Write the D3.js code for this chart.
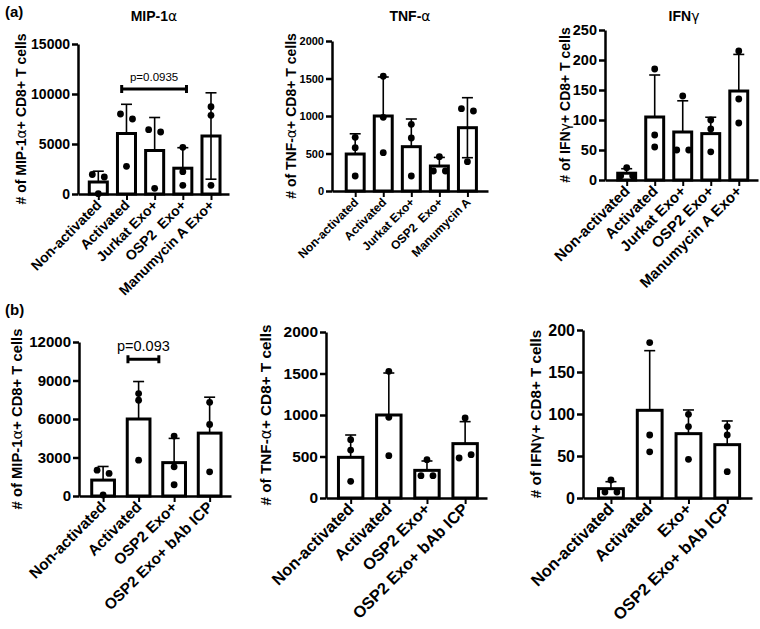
<!DOCTYPE html>
<html>
<head>
<meta charset="utf-8">
<script src="https://cdn.jsdelivr.net/npm/d3@7"></script>
<style>
body { margin: 0; background: #fff; }
text { font-family: "Liberation Sans", Arial, sans-serif; }
</style>
</head>
<body>
<div id="canvas"></div>
<script>
// ---- data ----
const groupsA_mip = ["Non-activated", "Activated", "Jurkat Exo+", "OSP2  Exo+", "Manumycin A Exo+"]
const groupsA_tnf = ["Non-activated", "Activated", "Jurkat Exo+", "OSP2  Exo+", "Manumycin A"]
const groupsA_ifn = ["Non-activated", "Activated", "Jurkat Exo+", "OSP2 Exo+", "Manumycin A Exo+"]
const groupsB = ["Non-activated", "Activated", "OSP2 Exo+", "OSP2 Exo+ bAb ICP"]
const groupsB_ifn = ["Non-activated", "Activated", "Exo+", "OSP2 Exo+ bAb ICP"]

// (a) MIP-1a
const mipA_mean = [1200, 6050, 4350, 2580, 5800]
const mipA_sd = [1080, 2920, 3300, 2050, 4320]
const mipA_pts = [[1950, 1700, 30], [8000, 7500, 2770], [6430, 6200, 570], [4670, 2230, 870], [8730, 7870, 870]]
// (a) TNF-a
const tnfA_mean = [493, 1000, 591, 333, 844]
const tnfA_sd = [270, 520, 369, 115, 400]
const tnfA_pts = [[716, 578, 200], [1530, 982, 511], [889, 707, 200], [458, 267, 267], [1098, 1067, 391]]
// (a) IFNg
const ifnA_mean = [11.3, 105, 80, 77.3, 148.3]
const ifnA_sd = [7.5, 70, 52, 27.3, 61]
const ifnA_pts = [[20.5, 7, 7], [185, 75, 55], [140, 50, 50], [100, 85, 47], [215, 135, 95]]
// (b) MIP-1a
const mipB_mean = [1240, 6000, 2600, 4900]
const mipB_sd = [1060, 2920, 1890, 2800]
const mipB_pts = [[2015, 1757, 77], [7980, 7460, 2790], [4670, 2270, 877], [7300, 5570, 1880]]
// (b) TNF-a
const tnfB_mean = [490, 1000, 333, 655]
const tnfB_sd = [269, 506, 113, 265]
const tnfB_pts = [[703, 578, 201], [1526, 972, 510], [462, 269, 269], [964, 482, 522]]
// (b) IFNg
const ifnB_mean = [11.1, 104.4, 76.6, 63.5]
const ifnB_sd = [8.3, 71, 28.2, 28.2]
const ifnB_pts = [[21.4, 7, 7], [185, 75, 55], [99.6, 85, 46], [85, 75, 31.3]]

const mipTicksA = [0, 5000, 10000, 15000]
const mipTicksB = [0, 3000, 6000, 9000, 12000]
const tnfTicks = [0, 500, 1000, 1500, 2000]
const ifnTicksA = [0, 50, 100, 150, 200, 250]
const ifnTicksB = [0, 50, 100, 150, 200]

const width = 760
const height = 629

const svg = d3.select("#canvas").append("svg")
    .attr("width", width)
    .attr("height", height)

// write text, greek letters in regular weight
function richText(sel, str) {
    const parts = str.split(/([αγ])/)
    parts.forEach(s => {
        if (!s) return
        const t = sel.append("tspan").text(s)
        if (/[αγ]/.test(s)) t.attr("font-weight", "normal").attr("font-family", "DejaVu Sans")
    })
}

function drawPanel(p) {
    const g = svg.append("g")
    const x = d3.scalePoint()
        .domain(p.groups)
        .range([p.x0, p.x1])
        .padding(p.pad)
        .align(0.53)
    const y = d3.scaleLinear()
        .domain([0, p.ticks[p.ticks.length - 1]])
        .range([p.y0, p.y1])
    const bw = x.step() * 0.64

    // bars
    g.selectAll("rect.bar").data(p.groups).enter()
        .append("rect")
        .attr("class", "bar")
        .attr("x", d => x(d) - bw / 2)
        .attr("y", (d, i) => y(p.mean[i]))
        .attr("width", bw)
        .attr("height", (d, i) => y(0) - y(p.mean[i]))
        .attr("fill", "white")
        .attr("stroke", "black")
        .attr("stroke-width", 3)

    // error bars (SD)
    p.groups.forEach((d, i) => {
        const cx = x(d)
        const hi = p.mean[i] + p.sd[i]
        const both = (p.both || []).includes(d)
        const lo = both ? p.mean[i] - p.sd[i] : p.mean[i]
        g.append("line").attr("x1", cx).attr("x2", cx)
            .attr("y1", y(lo)).attr("y2", y(hi))
            .attr("stroke", "black").attr("stroke-width", 1.6)
        g.append("line").attr("x1", cx - 5.5).attr("x2", cx + 5.5)
            .attr("y1", y(hi)).attr("y2", y(hi))
            .attr("stroke", "black").attr("stroke-width", 1.6)
        if (both) {
            g.append("line").attr("x1", cx - 5.5).attr("x2", cx + 5.5)
                .attr("y1", y(lo)).attr("y2", y(lo))
                .attr("stroke", "black").attr("stroke-width", 1.6)
        }
    })

    // dots, spread sideways when they would overlap
    p.groups.forEach((d, i) => {
        const vals = p.pts[i]
        const py = vals.map(v => y(v))
        const used = vals.map(() => false)
        vals.forEach((v, j) => {
            if (used[j]) return
            const cluster = [j]
            for (let k = j + 1; k < vals.length; k++) {
                if (!used[k] && Math.abs(py[k] - py[j]) < 6) cluster.push(k)
            }
            cluster.forEach((k, n) => {
                used[k] = true
                const off = (n - (cluster.length - 1) / 2) * 12
                g.append("circle")
                    .attr("cx", x(d) + off)
                    .attr("cy", py[k])
                    .attr("r", 3.4)
                    .attr("fill", "black")
            })
        })
    })

    // axes
    const yAxis = g.append("g")
        .attr("transform", `translate(${p.x0},0)`)
        .call(d3.axisLeft(y).tickValues(p.ticks).tickSize(6).tickSizeOuter(0).tickPadding(2).tickFormat(d3.format("d")))
    yAxis.select(".domain").attr("stroke-width", 2.5)
    yAxis.selectAll(".tick line").attr("stroke-width", 2.5)
    yAxis.selectAll("text")
        .attr("font-size", p.tf)
        .attr("font-weight", "bold")
        .attr("font-family", "Liberation Sans, Arial, sans-serif")
        .attr("fill", "black")

    const xAxis = g.append("g")
        .attr("transform", `translate(0,${p.y0})`)
        .call(d3.axisBottom(x).tickSize(6).tickSizeOuter(0).tickFormat(""))
    xAxis.select(".domain").attr("stroke-width", 2.5)
    xAxis.selectAll(".tick line").attr("stroke-width", 2)

    g.selectAll("text.xl").data(p.groups).enter()
        .append("text")
        .attr("class", "xl")
        .attr("transform", d => `translate(${x(d) + 4},${p.y0 + 12}) rotate(-45)`)
        .attr("text-anchor", "end")
        .attr("font-size", p.lf)
        .attr("font-weight", "bold")
        .style("white-space", "pre")
        .text(d => d)

    // y title
    const yt = g.append("text")
        .attr("transform", `translate(${p.titleX},${(p.y0 + p.y1) / 2}) rotate(-90)`)
        .attr("text-anchor", "middle")
        .attr("font-size", p.ttf)
        .attr("font-weight", "bold")
    richText(yt, p.ytitle)

    if (p.heading) {
        const ht = g.append("text")
            .attr("x", p.headX).attr("y", 21)
            .attr("text-anchor", "middle")
            .attr("font-size", 14)
            .attr("font-weight", "bold")
        richText(ht, p.heading)
    }

    if (p.sig) {
        const s = p.sig
        const xa = x(s.from) + s.offA * x.step()
        const xb = x(s.to) + s.offB * x.step()
        const yy = y(s.level)
        g.append("path")
            .attr("d", `M${xa},${yy - 4}V${yy + 4}M${xa},${yy}H${xb}M${xb},${yy - 4}V${yy + 4}`)
            .attr("stroke", "black").attr("stroke-width", 3).attr("fill", "none")
        g.append("text")
            .attr("x", (xa + xb) / 2).attr("y", yy - 8.5)
            .attr("text-anchor", "middle")
            .attr("font-size", s.fs)
            .text(s.label)
    }
}

drawPanel({ groups: groupsA_mip, mean: mipA_mean, sd: mipA_sd, pts: mipA_pts, ticks: mipTicksA,
    both: ["Manumycin A Exo+"],
    x0: 78, x1: 229, y0: 194, y1: 44, pad: 0.68, tf: 14, lf: 14, ttf: 14, titleX: 26,
    ytitle: "# of MIP-1α+ CD8+ T cells", heading: "MIP-1α", headX: 154,
    sig: { from: "Activated", to: "OSP2  Exo+", offA: -0.17, offB: 0.13, level: 10500, label: "p=0.0935", fs: 11.5 } })

drawPanel({ groups: groupsA_tnf, mean: tnfA_mean, sd: tnfA_sd, pts: tnfA_pts, ticks: tnfTicks,
    both: ["Manumycin A"],
    x0: 332, x1: 488, y0: 191, y1: 41, pad: 0.78, tf: 11, lf: 12, ttf: 14, titleX: 296,
    ytitle: "# of TNF-α+ CD8+ T cells", heading: "TNF-α", headX: 410 })

drawPanel({ groups: groupsA_ifn, mean: ifnA_mean, sd: ifnA_sd, pts: ifnA_pts, ticks: ifnTicksA,
    x0: 605, x1: 758, y0: 180, y1: 30, pad: 0.73, tf: 14.5, lf: 15, ttf: 14, titleX: 570,
    ytitle: "# of IFNγ+ CD8+ T cells", heading: "IFNγ", headX: 684 })

drawPanel({ groups: groupsB, mean: mipB_mean, sd: mipB_sd, pts: mipB_pts, ticks: mipTicksB,
    x0: 79, x1: 231, y0: 496, y1: 342, pad: 0.64, tf: 15, lf: 15.3, ttf: 14.8, titleX: 22,
    ytitle: "# of MIP-1α+ CD8+ T cells",
    sig: { from: "Activated", to: "Activated", offA: -0.3, offB: 0.57, level: 10660, label: "p=0.093", fs: 14.5 } })

drawPanel({ groups: groupsB, mean: tnfB_mean, sd: tnfB_sd, pts: tnfB_pts, ticks: tnfTicks,
    x0: 326, x1: 487, y0: 498, y1: 332, pad: 0.61, tf: 15.5, lf: 16.3, ttf: 15.3, titleX: 271,
    ytitle: "# of TNF-α+ CD8+ T cells" })

drawPanel({ groups: groupsB_ifn, mean: ifnB_mean, sd: ifnB_sd, pts: ifnB_pts, ticks: ifnTicksB,
    x0: 583, x1: 752, y0: 498, y1: 330, pad: 0.68, tf: 16, lf: 16.5, ttf: 15.2, titleX: 541,
    ytitle: "# of IFNγ+ CD8+ T cells" })

// panel letters
svg.append("text").attr("x", 5).attr("y", 17)
    .attr("font-family", "Liberation Serif, Times New Roman, serif")
    .attr("font-weight", "bold").attr("font-size", 15).text("(a)")
svg.append("text").attr("x", 5).attr("y", 315)
    .attr("font-family", "Liberation Serif, Times New Roman, serif")
    .attr("font-weight", "bold").attr("font-size", 15).text("(b)")
</script>
</body>
</html>
